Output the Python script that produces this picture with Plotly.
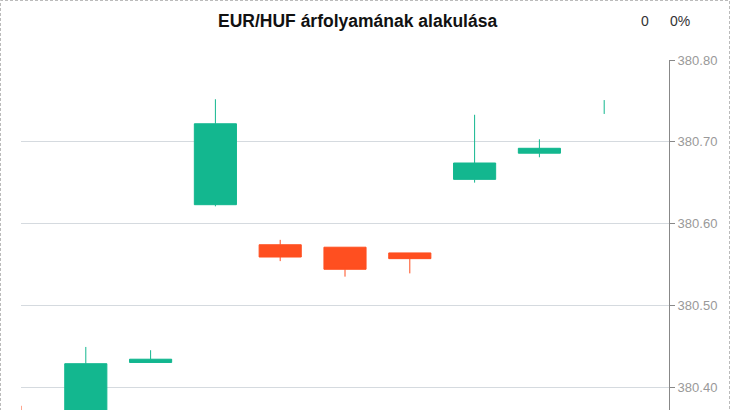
import plotly.graph_objects as go

# Data
idx = [0, 1, 2, 3, 4, 5, 6, 7, 8]
opens = [380.368, 380.360, 380.430, 380.623, 380.574, 380.571, 380.564, 380.654, 380.686]
highs = [380.377, 380.449, 380.445, 380.752, 380.580, 380.571, 380.564, 380.733, 380.703]
lows = [380.355, 380.350, 380.430, 380.621, 380.554, 380.535, 380.539, 380.650, 380.681]
closes = [380.360, 380.4285, 380.434, 380.722, 380.559, 380.544, 380.557, 380.674, 380.692]
last_x = 9
last_low = 380.734
last_high = 380.751

title_text = "EUR/HUF árfolyamának alakulása"
change_abs = "0"
change_pct = "0%"
y_ticks = [380.40, 380.50, 380.60, 380.70, 380.80]

GREEN = "#13B78F"
RED = "#FF4F20"

W, H = 730, 410
ML, MR, MT, MB = 21, 61, 60, 0
PW, PH = W - ML - MR, H - MT - MB
px_per_unit = 817.5
y_top = 380.80
y_bot = y_top - PH / px_per_unit

fig = go.Figure()
fig.add_trace(go.Candlestick(
    x=idx, open=opens, high=highs, low=lows, close=closes,
    increasing=dict(line=dict(color=GREEN, width=1), fillcolor=GREEN),
    decreasing=dict(line=dict(color=RED, width=1), fillcolor=RED),
    whiskerwidth=0, showlegend=False, hoverinfo="skip",
))
fig.add_trace(go.Scatter(
    x=[last_x, last_x], y=[last_low, last_high], mode="lines",
    line=dict(color=GREEN, width=1), showlegend=False, hoverinfo="skip",
))

def px_x(p):
    return (p - ML) / PW

def px_y(p):
    return (H - MB - p) / PH

fig.add_shape(type="rect", xref="paper", yref="paper",
              x0=px_x(0.5), x1=px_x(729.5), y0=px_y(440), y1=px_y(0.5),
              line=dict(color="#bbbbbb", width=1, dash="3px,2px"), layer="below")

fig.add_annotation(text="<b>" + title_text + "</b>", xref="paper", yref="paper",
                   x=px_x(357), y=px_y(21), xanchor="center", yanchor="middle",
                   showarrow=False, font=dict(size=17.5, color="#111111", family="Liberation Sans, Arial"))
fig.add_annotation(text=change_abs, xref="paper", yref="paper",
                   x=px_x(651), y=px_y(21), xanchor="right", yanchor="middle",
                   showarrow=False, font=dict(size=14, color="#333333", family="Liberation Sans, Arial"))
fig.add_annotation(text=change_pct, xref="paper", yref="paper",
                   x=px_x(692), y=px_y(21), xanchor="right", yanchor="middle",
                   showarrow=False, font=dict(size=14, color="#333333", family="Liberation Sans, Arial"))

fig.update_layout(
    width=W, height=H,
    margin=dict(l=ML, r=MR, t=MT, b=MB, pad=0),
    paper_bgcolor="white", plot_bgcolor="white",
    font=dict(family="Liberation Sans, Arial", size=13, color="#999999"),
    boxgap=0.35, boxgroupgap=0,
    xaxis=dict(range=[0, 10], showgrid=False, showticklabels=False, zeroline=False,
               rangeslider=dict(visible=False), showline=False, ticks=""),
    yaxis=dict(side="right", range=[y_bot, y_top], tickvals=y_ticks,
               ticktext=[f"{v:.2f}" for v in y_ticks],
               showgrid=True, gridcolor="#d5dadf", gridwidth=1,
               showline=True, linecolor="#888888", linewidth=1,
               ticks="outside", ticklen=5, tickcolor="#888888",
               tickfont=dict(size=13, color="#999999"), zeroline=False),
    showlegend=False,
)

fig.write_html("out.html", config={"displayModeBar": False},
               post_script="document.body.style.margin='0';document.body.style.overflow='hidden';")
